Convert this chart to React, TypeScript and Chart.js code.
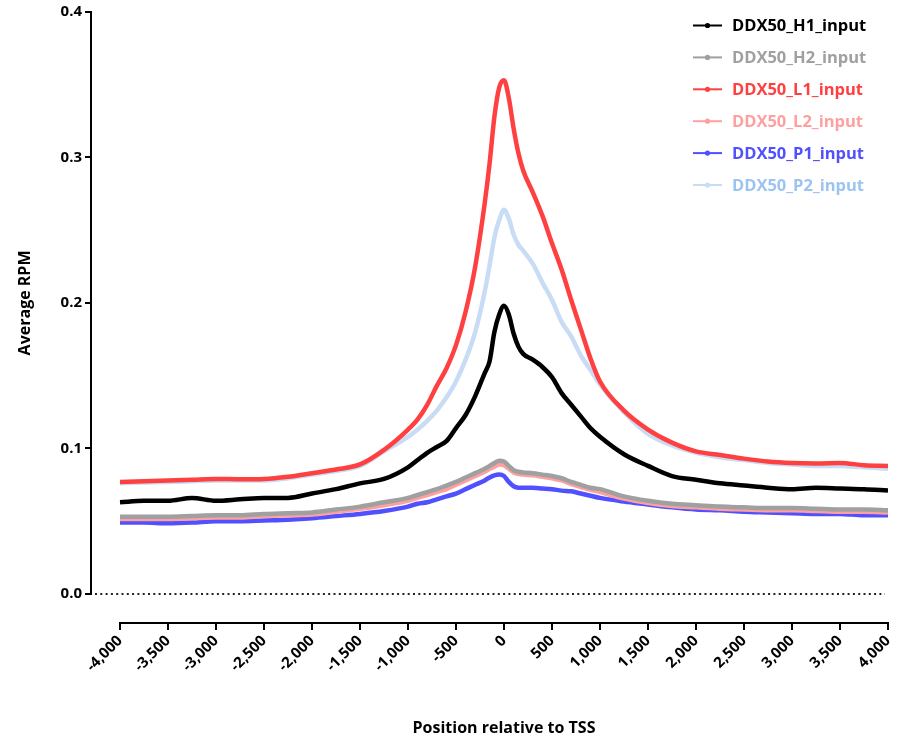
import React, { useEffect, useRef } from "react";
import { Chart, registerables } from "chart.js";

Chart.register(...registerables);

// Distance from TSS (bp) for every profile sample
const positions = [
  -4000, -3750, -3500, -3250, -3000, -2750, -2500, -2250, -2000, -1750, -1500, -1250,
  -1000, -900, -800, -700, -600, -500, -400, -300, -200, -150, -100, -50, 0, 50, 100,
  150, 200, 300, 400, 500, 600, 700, 800, 900, 1000, 1250, 1500, 1750, 2000, 2250, 2500,
  2750, 3000, 3250, 3500, 3750, 4000,
];

const h1Input = [
  0.063, 0.064, 0.064, 0.066, 0.064, 0.065, 0.066, 0.066, 0.069, 0.072, 0.076, 0.079,
  0.087, 0.092, 0.097, 0.101, 0.105, 0.114, 0.123, 0.136, 0.152, 0.16, 0.18, 0.192, 0.198,
  0.192, 0.179, 0.17, 0.165, 0.161, 0.156, 0.149, 0.138, 0.13, 0.122, 0.114, 0.108, 0.096,
  0.088, 0.081, 0.0785, 0.076, 0.0745, 0.073, 0.072, 0.073, 0.0725, 0.072, 0.071,
];

const h2Input = [
  0.053, 0.053, 0.053, 0.0535, 0.054, 0.054, 0.055, 0.0555, 0.056, 0.058, 0.06, 0.063,
  0.066, 0.068, 0.07, 0.072, 0.0745, 0.077, 0.08, 0.083, 0.086, 0.088, 0.09, 0.0915, 0.091,
  0.088, 0.085, 0.084, 0.0835, 0.083, 0.082, 0.081, 0.0795, 0.077, 0.075, 0.073, 0.072,
  0.067, 0.064, 0.062, 0.061, 0.06, 0.0595, 0.059, 0.059, 0.0585, 0.058, 0.058, 0.0575,
];

const l1Input = [
  0.077, 0.0775, 0.078, 0.0785, 0.079, 0.0788, 0.079, 0.0805, 0.083, 0.0855, 0.089, 0.099,
  0.113, 0.12, 0.13, 0.143, 0.155, 0.171, 0.194, 0.225, 0.269, 0.296, 0.328, 0.348, 0.353,
  0.341, 0.32, 0.303, 0.291, 0.276, 0.26, 0.241, 0.223, 0.202, 0.182, 0.162, 0.146, 0.126,
  0.113, 0.104, 0.098, 0.0955, 0.093, 0.091, 0.09, 0.0897, 0.09, 0.0885, 0.088,
];

const l2Input = [
  0.0515, 0.0515, 0.0515, 0.052, 0.0525, 0.0525, 0.0535, 0.054, 0.0545, 0.0565, 0.0585,
  0.061, 0.064, 0.066, 0.068, 0.07, 0.072, 0.075, 0.078, 0.081, 0.084, 0.086, 0.0875, 0.089,
  0.0885, 0.086, 0.0835, 0.0825, 0.082, 0.0815, 0.0805, 0.0795, 0.078, 0.0755, 0.0735,
  0.0715, 0.07, 0.0655, 0.0625, 0.0605, 0.0595, 0.0585, 0.058, 0.0575, 0.0575, 0.057,
  0.0565, 0.0565, 0.056,
];

const p1Input = [
  0.049, 0.049, 0.0485, 0.049, 0.05, 0.05, 0.0505, 0.051, 0.052, 0.0535, 0.055, 0.057,
  0.06, 0.062, 0.063, 0.065, 0.067, 0.069, 0.072, 0.075, 0.078, 0.08, 0.0815, 0.082, 0.081,
  0.077, 0.074, 0.073, 0.073, 0.073, 0.0725, 0.072, 0.071, 0.0705, 0.069, 0.0675, 0.066,
  0.0635, 0.0615, 0.0595, 0.058, 0.0575, 0.0565, 0.056, 0.0555, 0.055, 0.055, 0.054, 0.054,
];

const p2Input = [
  0.076, 0.0765, 0.077, 0.0775, 0.078, 0.078, 0.078, 0.0795, 0.082, 0.0845, 0.088, 0.098,
  0.108, 0.113, 0.119, 0.126, 0.135, 0.146, 0.161, 0.18, 0.208, 0.226, 0.245, 0.257, 0.264,
  0.258, 0.247, 0.24, 0.236, 0.227, 0.214, 0.202, 0.187, 0.177, 0.164, 0.154, 0.144, 0.125,
  0.11, 0.102, 0.097, 0.094, 0.092, 0.09, 0.089, 0.088, 0.088, 0.087, 0.086,
];

const seriesLabels = [
  "DDX50_H1_input",
  "DDX50_H2_input",
  "DDX50_L1_input",
  "DDX50_L2_input",
  "DDX50_P1_input",
  "DDX50_P2_input",
];
const seriesValues = [h1Input, h2Input, l1Input, l2Input, p1Input, p2Input];
const lineColors = ["#000000", "#a0a0a0", "#ff4040", "#ffa0a0", "#5050ff", "#c8dcf5"];
const textColors = ["#000000", "#a0a0a0", "#ff4040", "#ffa0a0", "#5050ff", "#9cc4f2"];

const xTicks = [
  -4000, -3500, -3000, -2500, -2000, -1500, -1000, -500, 0, 500, 1000, 1500, 2000, 2500,
  3000, 3500, 4000,
];
const yTicks = [0, 0.1, 0.2, 0.3, 0.4];

const xTitle = "Position relative to TSS";
const yTitle = "Average RPM";

const FONT = "'Open Sans', 'DejaVu Sans', sans-serif";

// Offset axes, dotted zero line, axis titles and the in-plot legend
const prismDecor = {
  id: "prismDecor",
  beforeDatasetsDraw(chart: any) {
    const { ctx } = chart;
    const xs = chart.scales.x;
    const ys = chart.scales.y;
    const y0 = ys.getPixelForValue(0);
    ctx.save();
    ctx.strokeStyle = "#222";
    ctx.lineWidth = 2;
    ctx.setLineDash([2, 3.3]);
    ctx.beginPath();
    ctx.moveTo(xs.left + 4, y0);
    ctx.lineTo(xs.right - 3, y0);
    ctx.stroke();
    ctx.restore();
  },
  afterDraw(chart: any) {
    const { ctx, chartArea } = chart;
    const xs = chart.scales.x;
    const ys = chart.scales.y;
    ctx.save();
    ctx.setLineDash([]);
    ctx.strokeStyle = "#000";
    ctx.lineWidth = 2;
    ctx.lineCap = "square";
    // y axis spans 0 .. 0.4
    ctx.beginPath();
    ctx.moveTo(chartArea.left, ys.getPixelForValue(yTicks[yTicks.length - 1]));
    ctx.lineTo(chartArea.left, ys.getPixelForValue(yTicks[0]));
    ctx.stroke();
    // x axis spans -4000 .. 4000, below the plot
    ctx.beginPath();
    ctx.moveTo(xs.getPixelForValue(xTicks[0]), chartArea.bottom);
    ctx.lineTo(xs.getPixelForValue(xTicks[xTicks.length - 1]), chartArea.bottom);
    ctx.stroke();

    // axis titles
    ctx.fillStyle = "#000";
    ctx.font = `bold 16px ${FONT}`;
    ctx.textAlign = "center";
    ctx.textBaseline = "middle";
    const xMid = (xs.getPixelForValue(xTicks[0]) + xs.getPixelForValue(xTicks[xTicks.length - 1])) / 2;
    ctx.fillText(xTitle, xMid, 728);
    ctx.save();
    ctx.translate(25, (ys.getPixelForValue(0) + ys.getPixelForValue(0.4)) / 2);
    ctx.rotate(-Math.PI / 2);
    ctx.fillText(yTitle, 0, 0);
    ctx.restore();

    // legend
    ctx.textAlign = "left";
    chart.data.datasets.forEach((ds: any, i: number) => {
      const cy = 25.5 + i * 31.9;
      ctx.strokeStyle = ds.borderColor;
      ctx.lineWidth = 2;
      ctx.lineCap = "butt";
      ctx.beginPath();
      ctx.moveTo(693, cy);
      ctx.lineTo(722, cy);
      ctx.stroke();
      ctx.fillStyle = ds.borderColor;
      ctx.beginPath();
      ctx.arc(707.5, cy, 2.6, 0, Math.PI * 2);
      ctx.fill();
      ctx.fillStyle = textColors[i];
      ctx.font = `bold 16.5px ${FONT}`;
      ctx.fillText(ds.label, 732, cy + 1);
    });
    ctx.restore();
  },
};

export default function App() {
  const canvasRef = useRef<HTMLCanvasElement | null>(null);

  useEffect(() => {
    document.body.style.margin = "0";
    const canvas = canvasRef.current;
    if (!canvas) return;

    const datasets = seriesLabels.map((label, i) => ({
      label,
      data: positions.map((x, k) => ({ x, y: seriesValues[i][k] })),
      borderColor: lineColors[i],
      backgroundColor: lineColors[i],
      borderWidth: 4.5,
      pointRadius: 0,
      cubicInterpolationMode: "monotone" as const,
      fill: false,
    }));

    const chart = new Chart(canvas, {
      type: "line",
      data: { datasets },
      plugins: [prismDecor],
      options: {
        responsive: false,
        animation: false,
        layout: { padding: { left: 0, top: 10, right: 17, bottom: 0 } },
        plugins: {
          legend: { display: false },
          tooltip: { enabled: false },
        },
        scales: {
          x: {
            type: "linear",
            min: -4302,
            max: 4000,
            border: { display: false },
            grid: {
              drawOnChartArea: false,
              drawTicks: true,
              tickLength: 7,
              color: "#000",
              lineWidth: 2,
            },
            afterBuildTicks: (scale: any) => {
              scale.ticks = xTicks.map((v) => ({ value: v }));
            },
            afterFit: (scale: any) => {
              scale.height = 117;
            },
            ticks: {
              autoSkip: false,
              minRotation: 45,
              maxRotation: 45,
              padding: 2,
              color: "#000",
              font: { family: FONT, size: 15, weight: "bold" },
              callback: (v: any) => Number(v).toLocaleString("en-US"),
            },
          },
          y: {
            type: "linear",
            min: -0.02,
            max: 0.4,
            border: { display: false },
            grid: {
              drawOnChartArea: false,
              drawTicks: true,
              tickLength: 6,
              color: "#000",
              lineWidth: 2,
            },
            afterBuildTicks: (scale: any) => {
              scale.ticks = yTicks.map((v) => ({ value: v }));
            },
            afterFit: (scale: any) => {
              scale.width = 91;
            },
            ticks: {
              padding: 3,
              color: "#000",
              font: { family: FONT, size: 15, weight: "bold" },
              callback: (v: any) => Number(v).toFixed(1),
            },
          },
        },
      },
    });

    return () => chart.destroy();
  }, []);

  return <canvas ref={canvasRef} width={905} height={740} style={{ display: "block" }} />;
}
